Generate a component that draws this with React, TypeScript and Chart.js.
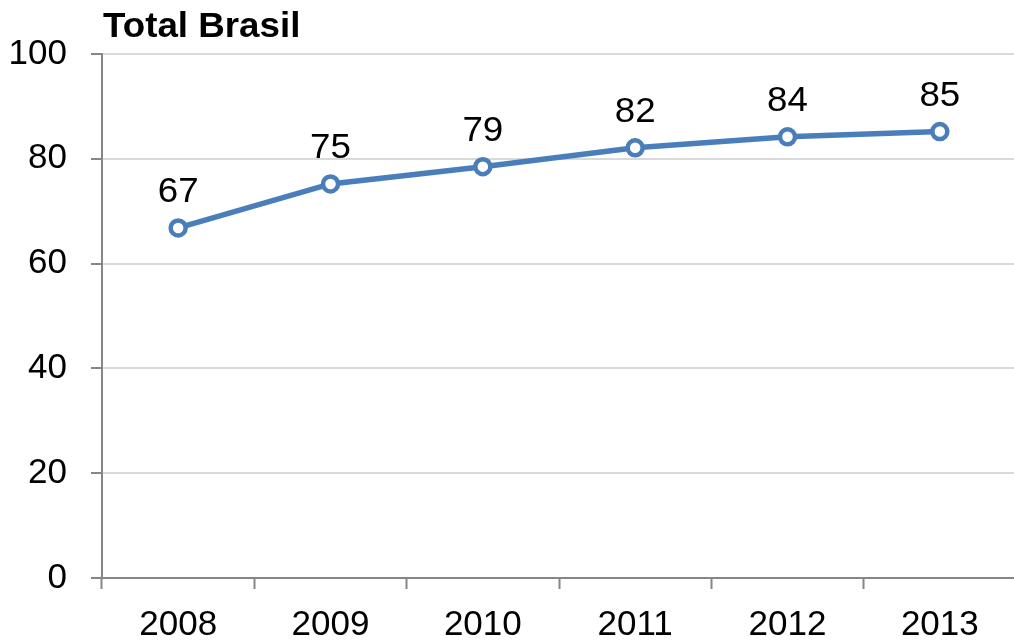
import React, { useEffect, useRef } from "react";
import { Chart, registerables } from "chart.js";

Chart.register(...registerables);

const categories = ["2008", "2009", "2010", "2011", "2012", "2013"];
const values = [66.8, 75.2, 78.5, 82.1, 84.2, 85.2];
const valueLabels = ["67", "75", "79", "82", "84", "85"];
const yTicks = [0, 20, 40, 60, 80, 100];
const chartTitle = "Total Brasil";

const FONT = "'Liberation Sans', Arial, sans-serif";

export default function App() {
  const ref = useRef<HTMLCanvasElement | null>(null);

  useEffect(() => {
    if (!ref.current) return;
    const labelPlugin = {
      id: "valueLabels",
      afterDatasetsDraw(chart: any) {
        const ctx = chart.ctx;
        const meta = chart.getDatasetMeta(0);
        ctx.save();
        ctx.font = `35px ${FONT}`;
        ctx.fillStyle = "#000000";
        ctx.textAlign = "center";
        ctx.textBaseline = "alphabetic";
        meta.data.forEach((pt: any, i: number) => {
          ctx.save();
          ctx.translate(pt.x, pt.y - 26);
          ctx.scale(1.05, 1);
          ctx.fillText(valueLabels[i], 0, 0);
          ctx.restore();
        });
        ctx.font = `bold 35px ${FONT}`;
        ctx.textAlign = "left";
        ctx.save();
        ctx.translate(chart.chartArea.left + 1, 37);
        ctx.scale(1.05, 1);
        ctx.fillText(chartTitle, 0, 0);
        ctx.restore();
        ctx.restore();
      },
    };

    const chart = new Chart(ref.current, {
      type: "line",
      data: {
        labels: categories,
        datasets: [
          {
            data: values,
            borderColor: "#4A7EBB",
            borderWidth: 5.5,
            pointRadius: 7.5,
            pointBorderWidth: 4.5,
            pointBackgroundColor: "#FFFFFF",
            pointBorderColor: "#4A7EBB",
            tension: 0,
          },
        ],
      },
      options: {
        animation: false,
        responsive: false,
        maintainAspectRatio: false,
        layout: { autoPadding: false, padding: { top: 54, right: 0, left: 0, bottom: 0 } },
        plugins: {
          legend: { display: false },
          tooltip: { enabled: false },
          title: { display: false },
        },
        scales: {
          x: {
            type: "category",
            offset: true,
            grid: {
              offset: true,
              drawOnChartArea: false,
              drawTicks: true,
              tickLength: 11,
              tickColor: "#868686",
              tickWidth: 2,
            },
            border: { display: true, color: "#868686", width: 2 },
            ticks: {
              color: "#000000",
              font: { family: FONT, size: 35 },
              padding: 15,
              maxRotation: 0,
            },
            afterFit(scale: any) {
              scale.height = 62;
              scale.paddingRight = 0;
              scale.paddingLeft = 0;
            },
          },
          y: {
            min: 0,
            max: 100,
            afterBuildTicks(scale: any) {
              scale.ticks = yTicks.map((v) => ({ value: v }));
            },
            grid: {
              color: "#D9D9D9",
              lineWidth: 2,
              drawTicks: true,
              tickLength: 11,
              tickColor: "#868686",
              tickWidth: 2,
            },
            border: { display: true, color: "#868686", width: 2 },
            ticks: {
              color: "#000000",
              font: { family: FONT, size: 35 },
              padding: 24,
            },
            afterFit(scale: any) {
              scale.width = 102;
            },
          },
        },
      },
      plugins: [labelPlugin],
    });
    return () => chart.destroy();
  }, []);

  return (
    <div style={{ position: "fixed", left: 0, top: 0, width: 1016, height: 640, background: "#fff" }}>
      <canvas ref={ref} width={1016} height={640} style={{ display: "block" }} />
    </div>
  );
}
